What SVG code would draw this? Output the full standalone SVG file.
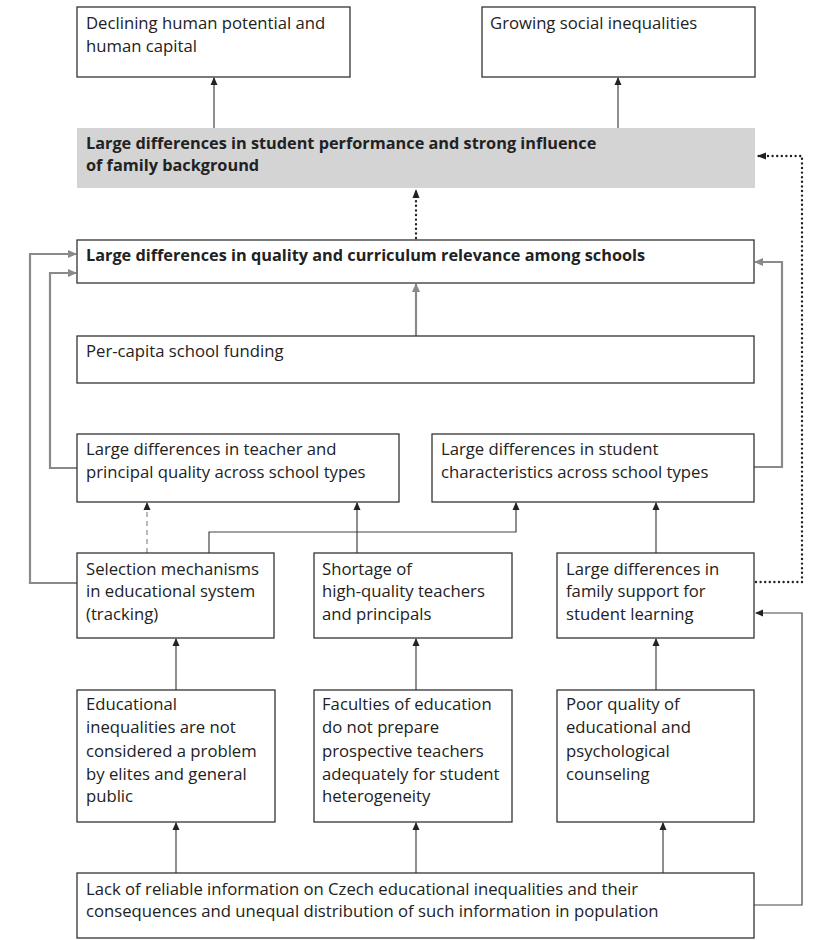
<svg xmlns="http://www.w3.org/2000/svg" width="818" height="940" viewBox="0 0 818 940">
  <defs>
    <marker id="ah" markerWidth="8" markerHeight="8" refX="7" refY="4" orient="auto" markerUnits="userSpaceOnUse">
      <path d="M0,0.5 L8,4 L0,7.5 Z" fill="#222"/>
    </marker>
    <marker id="ahg" markerWidth="9" markerHeight="9" refX="8" refY="4.5" orient="auto" markerUnits="userSpaceOnUse">
      <path d="M0,0.5 L9,4.5 L0,8.5 Z" fill="#8a8a8a"/>
    </marker>
    <marker id="ahd" markerWidth="9" markerHeight="9" refX="8" refY="4.5" orient="auto" markerUnits="userSpaceOnUse">
      <path d="M0,1 L9,4.5 L0,8 Z" fill="#222"/>
    </marker>
  </defs>
  <style>
    .box { fill: #fff; stroke: #333; stroke-width: 1.3; }
    .hl { fill: #d4d4d4; stroke: none; }
    text { font-family: "Open Sans", "Noto Sans", sans-serif; font-size: 16.7px; fill: #222; }
    .b { font-weight: bold; font-size: 16.3px; }
    .ln { fill: none; stroke: #444; stroke-width: 1.2; marker-end: url(#ah); }
    .gl { fill: none; stroke: #8a8a8a; stroke-width: 2.2; marker-end: url(#ahg); }
    .dl { fill: none; stroke: #8a8a8a; stroke-width: 1.2; stroke-dasharray: 5 4; marker-end: url(#ah); }
    .dot { fill: none; stroke: #222; stroke-width: 2.4; stroke-linecap: round; stroke-dasharray: 0 4.6; marker-end: url(#ahd); }
  </style>

  <!-- connectors -->
  <g id="connectors">
    <path class="ln" d="M214,128 V78"/>
    <path class="ln" d="M618,128 V78"/>
    <path class="dot" d="M416,238 V190"/>
    <path class="dot" d="M756,582 H802 V156 H758"/>
    <path class="gl" d="M416,336 V284"/>
    <path class="gl" d="M77,583 H30 V254 H76"/>
    <path class="gl" d="M77,468 H50 V273 H76"/>
    <path class="gl" d="M754,467 H782 V262 H755"/>
    <path class="dl" d="M147,553 V503"/>
    <path class="ln" d="M357,553 V503"/>
    <path class="ln" d="M209,553 V532 H516 V503"/>
    <path class="ln" d="M656,553 V503"/>
    <path class="ln" d="M176,690 V639"/>
    <path class="ln" d="M416,690 V639"/>
    <path class="ln" d="M656,690 V639"/>
    <path class="ln" d="M176,873 V823"/>
    <path class="ln" d="M416,873 V823"/>
    <path class="ln" d="M663,873 V823"/>
    <path class="ln" d="M754,905 H802 V613 H756"/>
  </g>

  <g id="n-human-potential">
    <rect class="box" x="77" y="7" width="273" height="70"/>
    <text x="86" y="29">Declining human potential and</text>
    <text x="86" y="52">human capital</text>
  </g>
  <g id="n-social-inequalities">
    <rect class="box" x="482" y="7" width="273" height="70"/>
    <text x="490" y="29">Growing social inequalities</text>
  </g>
  <g id="n-student-performance">
    <rect class="hl" x="77" y="128" width="678" height="60"/>
    <text class="b" x="86" y="149">Large differences in student performance and strong influence</text>
    <text class="b" x="86" y="171">of family background</text>
  </g>
  <g id="n-school-quality">
    <rect class="box" x="77" y="240" width="677" height="43"/>
    <text class="b" x="86" y="261">Large differences in quality and curriculum relevance among schools</text>
  </g>
  <g id="n-funding">
    <rect class="box" x="77" y="336" width="677" height="47"/>
    <text x="86" y="357">Per-capita school funding</text>
  </g>
  <g id="n-teacher-quality">
    <rect class="box" x="77" y="434" width="322" height="68"/>
    <text x="86" y="455">Large differences in teacher and</text>
    <text x="86" y="478">principal quality across school types</text>
  </g>
  <g id="n-student-characteristics">
    <rect class="box" x="432" y="434" width="322" height="68"/>
    <text x="441" y="455">Large differences in student</text>
    <text x="441" y="478">characteristics across school types</text>
  </g>
  <g id="n-selection">
    <rect class="box" x="77" y="553" width="197" height="85"/>
    <text x="86" y="575">Selection mechanisms</text>
    <text x="86" y="597">in educational system</text>
    <text x="86" y="620">(tracking)</text>
  </g>
  <g id="n-shortage">
    <rect class="box" x="314" y="553" width="198" height="85"/>
    <text x="322" y="575">Shortage of</text>
    <text x="322" y="597">high-quality teachers</text>
    <text x="322" y="620">and principals</text>
  </g>
  <g id="n-family-support">
    <rect class="box" x="557" y="553" width="197" height="85"/>
    <text x="566" y="575">Large differences in</text>
    <text x="566" y="597">family support for</text>
    <text x="566" y="620">student learning</text>
  </g>
  <g id="n-elites">
    <rect class="box" x="77" y="690" width="198" height="132"/>
    <text x="86" y="710">Educational</text>
    <text x="86" y="733">inequalities are not</text>
    <text x="86" y="757">considered a problem</text>
    <text x="86" y="780">by elites and general</text>
    <text x="86" y="802">public</text>
  </g>
  <g id="n-faculties">
    <rect class="box" x="314" y="690" width="198" height="132"/>
    <text x="322" y="710">Faculties of education</text>
    <text x="322" y="733">do not prepare</text>
    <text x="322" y="757">prospective teachers</text>
    <text x="322" y="780">adequately for student</text>
    <text x="322" y="802">heterogeneity</text>
  </g>
  <g id="n-counseling">
    <rect class="box" x="557" y="690" width="197" height="132"/>
    <text x="566" y="710">Poor quality of</text>
    <text x="566" y="733">educational and</text>
    <text x="566" y="757">psychological</text>
    <text x="566" y="780">counseling</text>
  </g>
  <g id="n-information">
    <rect class="box" x="77" y="873" width="677" height="65"/>
    <text x="86" y="895">Lack of reliable information on Czech educational inequalities and their</text>
    <text x="86" y="917">consequences and unequal distribution of such information in population</text>
  </g>
</svg>
